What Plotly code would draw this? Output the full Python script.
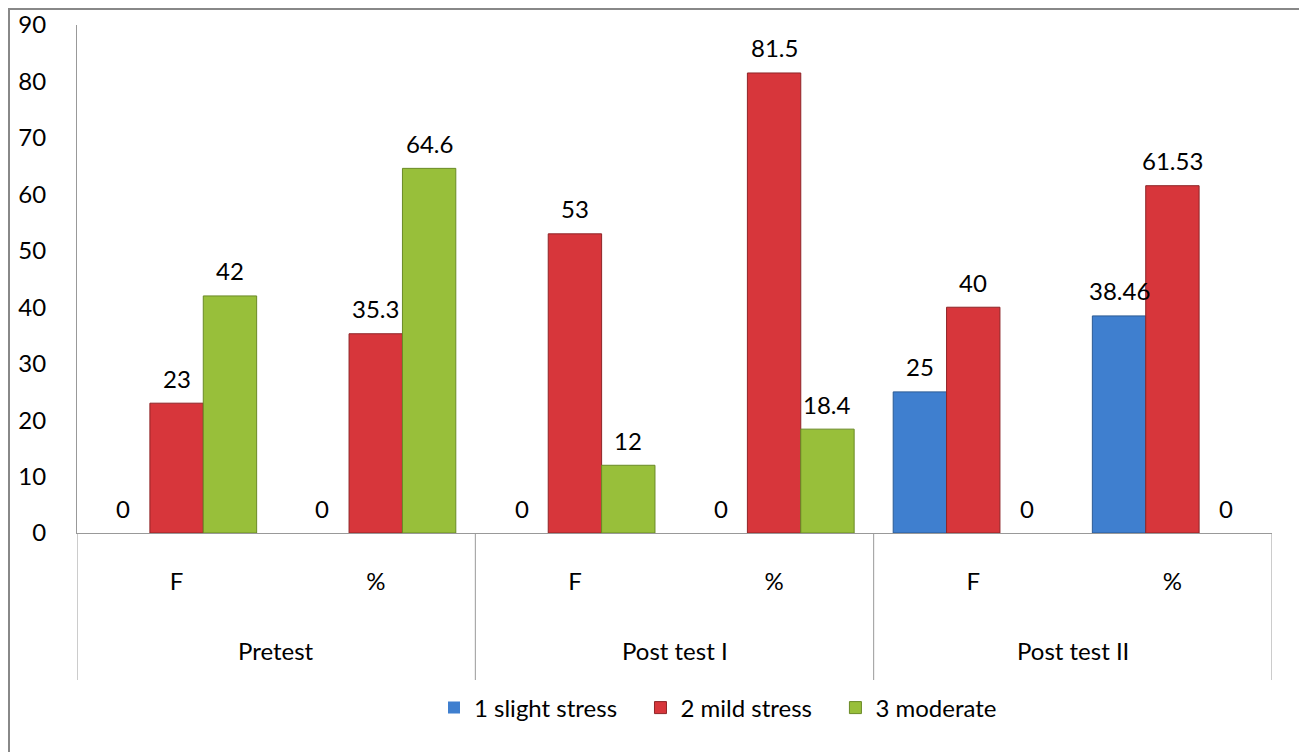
import plotly.graph_objects as go

groups = ["Pretest", "Post test I", "Post test II"]
subcats = ["F", "%", "F", "%", "F", "%"]
series_names = ["1 slight stress", "2 mild stress", "3 moderate"]
slight = [0, 0, 0, 0, 25, 38.46]
mild = [23, 35.3, 53, 81.5, 40, 61.53]
moderate = [42, 64.6, 12, 18.4, 0, 0]
y_ticks = [0, 10, 20, 30, 40, 50, 60, 70, 80, 90]

series_values = [slight, mild, moderate]
colors = ["#3f7fcf", "#d7363b", "#98bf3a"]
edge = ["#2b5a94", "#8e2427", "#6a8a26"]

FONT = "Lato"
FS = 24
bargap = 0.196
bw = (1 - bargap) / 3

# page body has an 8px margin: figure is offset by (8, 8) on screen
W, H = 1299, 744
ML, MR, MT, MB = 69, 35, 17, 219
plot_w = W - ML - MR
plot_h = H - MT - MB
bottom_fy = H - MB

xs = list(range(len(subcats)))
fig = go.Figure()
for k, (name, vals) in enumerate(zip(series_names, series_values)):
    fig.add_trace(go.Bar(
        x=xs, y=vals, name=name + "\u00a0\u00a0\u00a0",
        marker=dict(color=colors[k],
                    line=dict(color=edge[k], width=[0 if v == 0 else 1 for v in vals])),
    ))
    for i, v in zip(xs, vals):
        fig.add_annotation(
            x=i + (k - 1) * bw, y=v, xref="x", yref="y",
            text=f"{v:g}", showarrow=False, yanchor="middle", yshift=25,
            font=dict(family=FONT, size=FS, color="#000"),
        )

for gi, g in enumerate(groups):
    fig.add_annotation(
        x=2 * gi + 0.5, y=-(650 - 533) / plot_h, xref="x", yref="paper",
        text=g, showarrow=False, yanchor="middle",
        font=dict(family=FONT, size=FS, color="#000"),
    )

for xb in [-0.5, 1.5, 3.5, 5.5]:
    fig.add_shape(type="line", xref="x", yref="paper", x0=xb, x1=xb,
                  y0=0, y1=-(680 - 533) / plot_h,
                  line=dict(color="#999999", width=1))

# outer frame (left and top edges visible)
fig.add_shape(type="rect", xref="paper", yref="paper",
              x0=(1 - ML) / plot_w, x1=1.3, y0=-0.8, y1=(bottom_fy - 1) / plot_h,
              line=dict(color="#888888", width=2), fillcolor="rgba(0,0,0,0)")

fig.update_layout(
    width=W, height=H,
    margin=dict(l=ML, r=MR, t=MT, b=MB, autoexpand=False),
    paper_bgcolor="white", plot_bgcolor="white",
    barmode="group", bargap=bargap, bargroupgap=0,
    font=dict(family=FONT, size=FS, color="#000"),
    showlegend=True,
    legend=dict(orientation="h", x=(426 - 69) / plot_w, xanchor="left",
                y=-(708 - 533) / plot_h, yanchor="middle",
                font=dict(family=FONT, size=FS, color="#000"),
                itemwidth=30, traceorder="normal"),
    xaxis=dict(range=[-0.5, 5.5], tickmode="array", tickvals=xs, ticktext=subcats,
               showline=True, linecolor="#999999", linewidth=1, automargin=False,
               showgrid=False, zeroline=False, ticks="", ticklabelstandoff=27,
               tickfont=dict(family=FONT, size=FS, color="#000"), fixedrange=True),
    yaxis=dict(range=[0, 90], tickmode="array", tickvals=y_ticks,
               showline=True, linecolor="#999999", linewidth=1, automargin=False,
               showgrid=False, zeroline=False, ticks="", ticklabelstandoff=25,
               ticklabeloverflow="allow",
               tickfont=dict(family=FONT, size=FS, color="#000"), fixedrange=True),
)

fig.write_html("out.html")
